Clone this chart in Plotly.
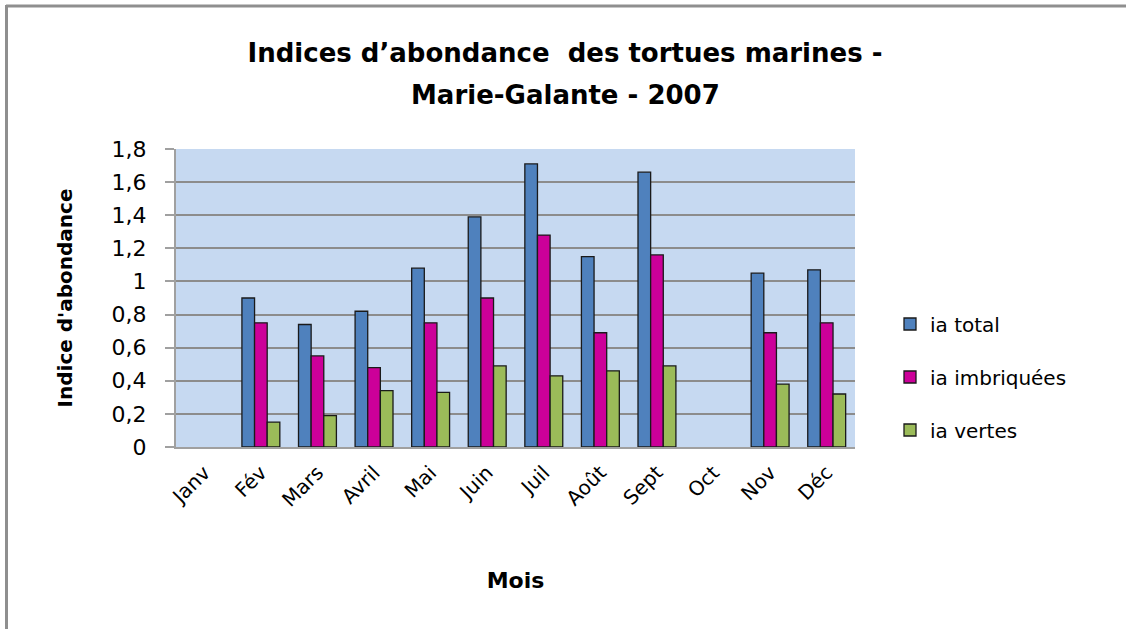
import plotly.graph_objects as go

mois = ["Janv", "Fév", "Mars", "Avril", "Mai", "Juin", "Juil", "Août", "Sept", "Oct", "Nov", "Déc"]
ia_total = [None, 0.90, 0.74, 0.82, 1.08, 1.39, 1.71, 1.15, 1.66, None, 1.05, 1.07]
ia_imbriquees = [None, 0.75, 0.55, 0.48, 0.75, 0.90, 1.28, 0.69, 1.16, None, 0.69, 0.75]
ia_vertes = [None, 0.15, 0.19, 0.34, 0.33, 0.49, 0.43, 0.46, 0.49, None, 0.38, 0.32]
titre_1 = "Indices d’abondance  des tortues marines -"
titre_2 = "Marie-Galante - 2007"

FONT = "DejaVu Sans"
W, H = 1126, 629
L, R, T, B = 176, 1126 - 855, 149, 629 - 447
PW, PH = W - L - R, H - T - B

def px(x):
    return (x - L) / PW

def py(y):
    return (H - B - y) / PH

fig = go.Figure()
series = [("ia total", ia_total, "#4F81BD"),
          ("ia imbriquées", ia_imbriquees, "#CC0099"),
          ("ia vertes", ia_vertes, "#9BBB59")]
for name, vals, col in series:
    fig.add_trace(go.Bar(x=mois, y=vals, name=name, legendgroup=name,
                         marker=dict(color=col, line=dict(color="#1a1a1a", width=1.3))))

fig.update_layout(
    width=W, height=H,
    margin=dict(l=L, r=R, t=T, b=B),
    paper_bgcolor="white",
    plot_bgcolor="#C6D9F1",
    separators=", ",
    barmode="group", bargap=0.33, bargroupgap=0,
    font=dict(family=FONT, color="black", size=19),
    title=dict(text="<b>" + titre_1 + "</b>",
               x=565 / W, xanchor="center", y=1 - 53 / H, yanchor="middle",
               font=dict(size=26, family=FONT)),
    legend=dict(x=px(890), xanchor="left", y=py(377), yanchor="middle",
                font=dict(size=20, family=FONT), tracegroupgap=24,
                bgcolor="rgba(0,0,0,0)", itemwidth=30),
    showlegend=True,
)
fig.add_annotation(text="<b>" + titre_2 + "</b>", xref="paper", yref="paper",
                   x=px(565), y=py(95), xanchor="center", yanchor="middle",
                   showarrow=False, font=dict(size=26, family=FONT))
fig.update_xaxes(showgrid=False, showline=True, linecolor="#a0a0a0", linewidth=2,
                 tickangle=-45, ticks="", ticklabelstandoff=4,
                 tickfont=dict(size=20, family=FONT),
                 title=dict(text="<b>Mois</b>", font=dict(size=22, family=FONT), standoff=62))
fig.update_yaxes(range=[0, 1.8], dtick=0.2, showgrid=True, gridcolor="#8c8c8c", gridwidth=1.5,
                 showline=True, linecolor="#a0a0a0", linewidth=2,
                 ticks="outside", ticklen=9, tickcolor="#a0a0a0", tickwidth=1.5,
                 ticklabelstandoff=14, zeroline=False,
                 tickfont=dict(size=22, family=FONT),
                 title=dict(text="<b>Indice d'abondance</b>", font=dict(size=20, family=FONT), standoff=34))

# outer frame (top and left edges)
fig.add_shape(type="line", xref="paper", yref="paper", x0=px(6), x1=px(1126), y0=py(6), y1=py(6),
              line=dict(color="#8f8f8f", width=3))
fig.add_shape(type="line", xref="paper", yref="paper", x0=px(6.5), x1=px(6.5), y0=py(5), y1=py(629),
              line=dict(color="#8f8f8f", width=3))

fig.write_html("out.html", config={"displayModeBar": False},
               post_script="document.body.style.margin='0px';")
